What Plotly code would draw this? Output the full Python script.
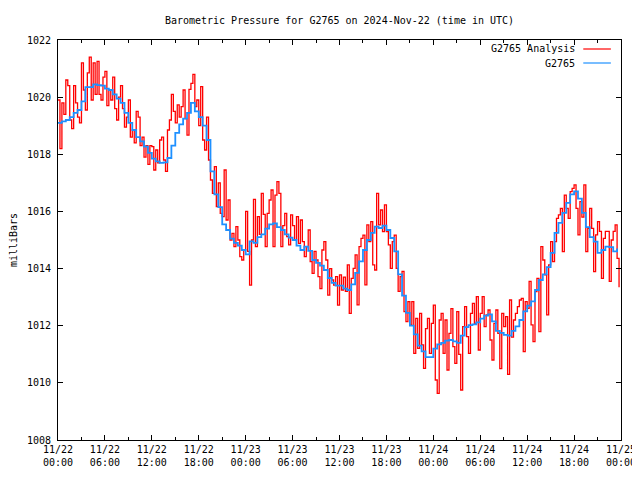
import pandas as pd
import plotly.graph_objects as go

title_text = "Barometric Pressure for G2765 on 2024-Nov-22 (time in UTC)"
start_time = "2024-11-22 00:00"
analysis_step = "15min"
obs_step = "30min"

# G2765 Analysis (red), 15-minute values
analysis_mb = [
    1019.9, 1018.2, 1019.8, 1019.4,
    1020.6, 1020.4, 1019.2, 1018.9,
    1020.4, 1019.8, 1019.3, 1019.1,
    1021.2, 1020.25, 1019.55, 1020.85,
    1021.4, 1019.9, 1021.2, 1020.1,
    1021.25, 1020.1, 1019.9, 1020.7,
    1020.9, 1019.7, 1020.25, 1019.9,
    1020.7, 1019.6, 1019.2, 1020.0,
    1020.4, 1019.6, 1018.95, 1019.3,
    1019.9, 1018.6, 1018.85, 1018.4,
    1019.5, 1019.3, 1018.3, 1018.6,
    1017.9, 1018.3, 1017.65, 1018.3,
    1018.27, 1017.45, 1018.15, 1017.7,
    1018.5, 1018.6, 1017.8, 1017.4,
    1018.85, 1019.2, 1020.1, 1019.5,
    1019.1, 1019.73, 1019.3, 1019.67,
    1020.25, 1019.25, 1018.67, 1020.27,
    1020.48, 1020.8, 1019.67, 1019.9,
    1019.0, 1020.37, 1018.5, 1018.15,
    1019.3, 1017.8, 1017.1, 1016.63,
    1017.57, 1016.17, 1017.0, 1015.93,
    1015.82, 1017.45, 1015.7, 1016.4,
    1015.0, 1015.23, 1014.77, 1015.47,
    1015.0, 1014.42, 1014.3, 1014.65,
    1016.0, 1014.6, 1013.42, 1015.0,
    1016.42, 1014.77, 1015.82, 1015.2,
    1016.63, 1015.9, 1014.77, 1015.93,
    1016.4, 1016.75, 1014.77, 1016.57,
    1017.04, 1016.63, 1014.77, 1015.5,
    1015.93, 1015.12, 1014.83, 1015.88,
    1015.5, 1015.0, 1015.82, 1014.88,
    1015.7, 1014.94, 1014.42, 1014.77,
    1015.35, 1014.24, 1013.83, 1014.6,
    1014.3, 1013.72, 1013.3, 1014.65,
    1014.94, 1014.3, 1013.07, 1014.0,
    1013.6, 1013.42, 1013.72, 1012.72,
    1013.78, 1013.25, 1013.7, 1013.2,
    1014.13, 1012.43, 1013.66, 1014.01,
    1014.48, 1012.73, 1014.77, 1015.06,
    1015.17, 1013.43, 1015.53, 1014.94,
    1015.64, 1014.13, 1013.95, 1016.63,
    1015.53, 1016.05, 1015.29, 1016.23,
    1015.29, 1014.83, 1014.01, 1014.94,
    1015.17, 1014.01, 1013.2, 1013.72,
    1013.9, 1012.49, 1012.14, 1012.84,
    1012.03, 1012.84, 1011.03, 1012.26,
    1011.21, 1012.43, 1011.33, 1010.51,
    1011.9, 1012.26, 1011.03, 1012.08,
    1012.72, 1010.1, 1009.63, 1012.2,
    1012.43, 1011.03, 1012.2, 1010.45,
    1011.73, 1012.6, 1011.27, 1010.68,
    1012.49, 1011.0, 1009.75, 1011.97,
    1012.67, 1011.62, 1011.03, 1012.43,
    1012.78, 1012.08, 1013.02, 1011.15,
    1012.43, 1013.02, 1011.97, 1012.38,
    1012.55, 1011.5, 1010.8, 1012.08,
    1012.55, 1011.73, 1010.5, 1012.43,
    1011.97, 1012.32, 1010.3, 1012.9,
    1011.6, 1012.2, 1012.43, 1012.67,
    1012.9, 1012.96, 1011.09, 1012.84,
    1012.61, 1013.55, 1012.03, 1011.44,
    1013.19, 1013.66, 1011.79, 1014.77,
    1014.3, 1013.78, 1012.38, 1014.13,
    1014.94, 1014.24, 1014.94, 1015.76,
    1015.88, 1016.11, 1014.59, 1016.57,
    1016.11, 1015.76, 1016.69, 1016.81,
    1016.93, 1016.11, 1015.18, 1016.34,
    1015.8, 1016.93, 1014.59, 1015.41,
    1016.11, 1015.41, 1013.89, 1015.18,
    1015.64, 1015.3, 1013.66, 1015.06,
    1015.3, 1015.3, 1013.55, 1015.0,
    1015.3, 1015.53, 1014.36, 1013.35,
]

# G2765 observations (blue), 30-minute values
obs_mb = [
    1019.10, 1019.15, 1019.20, 1019.30, 1019.45, 1019.55, 1019.85, 1020.35,
    1020.35, 1020.45, 1020.42, 1020.40, 1020.30, 1020.25, 1020.10, 1019.95,
    1019.80, 1019.45, 1019.10, 1018.85, 1018.60, 1018.45, 1018.27, 1018.05,
    1017.85, 1017.75, 1017.70, 1017.72, 1017.87, 1018.30, 1018.75, 1019.05,
    1019.25, 1019.45, 1019.80, 1019.50, 1019.30, 1019.00, 1018.50, 1017.40,
    1016.60, 1016.15, 1015.55, 1015.35, 1015.05, 1014.90, 1014.80, 1014.65,
    1014.50, 1014.95, 1014.90, 1015.10, 1015.20, 1015.40, 1015.55, 1015.58,
    1015.45, 1015.35, 1015.20, 1015.08, 1015.00, 1014.80, 1014.65, 1014.77,
    1014.62, 1014.30, 1014.20, 1014.10, 1013.95, 1013.67, 1013.50, 1013.40,
    1013.40, 1013.30, 1013.25, 1013.45, 1013.85, 1014.25, 1014.65, 1015.00,
    1015.25, 1015.47, 1015.42, 1015.50, 1015.35, 1015.07, 1014.60, 1013.80,
    1013.05, 1012.45, 1012.00, 1011.70, 1011.30, 1011.10, 1010.90, 1010.90,
    1011.20, 1011.35, 1011.40, 1011.48, 1011.50, 1011.45, 1011.40, 1011.65,
    1011.95, 1012.02, 1012.05, 1012.12, 1012.25, 1012.35, 1012.40, 1012.15,
    1011.82, 1011.75, 1011.68, 1011.65, 1011.82, 1011.98, 1012.20, 1012.50,
    1012.70, 1012.85, 1013.25, 1013.60, 1013.80, 1014.05, 1014.55, 1015.25,
    1015.60, 1015.95, 1016.30, 1016.60, 1016.70, 1016.45, 1015.95, 1015.45,
    1015.10, 1014.94, 1014.55, 1014.65, 1014.77, 1014.75, 1014.60, 1014.70,
]

x_tick_vals = ["2024-11-22 00:00", "2024-11-22 06:00", "2024-11-22 12:00", "2024-11-22 18:00",
               "2024-11-23 00:00", "2024-11-23 06:00", "2024-11-23 12:00", "2024-11-23 18:00",
               "2024-11-24 00:00", "2024-11-24 06:00", "2024-11-24 12:00", "2024-11-24 18:00",
               "2024-11-25 00:00"]
x_tick_text = ["11/22<br>00:00", "11/22<br>06:00", "11/22<br>12:00", "11/22<br>18:00",
               "11/23<br>00:00", "11/23<br>06:00", "11/23<br>12:00", "11/23<br>18:00",
               "11/24<br>00:00", "11/24<br>06:00", "11/24<br>12:00", "11/24<br>18:00",
               "11/25<br>00:00"]
y_ticks = [1008, 1010, 1012, 1014, 1016, 1018, 1020, 1022]

series_names = ["G2765 Analysis", "G2765"]
series_colors = ["#ff0000", "#1e90ff"]

t_analysis = pd.date_range(start_time, periods=len(analysis_mb), freq=analysis_step)
t_obs = pd.date_range(start_time, periods=len(obs_mb), freq=obs_step)

FONT = "DejaVu Sans Mono"

fig = go.Figure()
fig.add_trace(go.Scatter(x=t_analysis, y=analysis_mb, mode="lines", line_shape="hv",
                         line=dict(color=series_colors[0], width=1.3),
                         name=series_names[0], showlegend=False))
fig.add_trace(go.Scatter(x=t_obs, y=obs_mb, mode="lines", line_shape="hv",
                         line=dict(color=series_colors[1], width=1.8),
                         name=series_names[1], showlegend=False))

# gnuplot-style legend: text right-aligned, line sample to the right
legend_rows = [0.9775, 0.9425]
for name, color, yy in zip(series_names, series_colors, legend_rows):
    fig.add_annotation(xref="paper", yref="paper", x=0.921, y=yy, text=name,
                       showarrow=False, xanchor="right", yanchor="middle",
                       font=dict(family=FONT, size=10, color="black"))
    fig.add_shape(type="line", xref="paper", yref="paper", x0=0.933, x1=0.982,
                  y0=yy, y1=yy, line=dict(color=color, width=1.2))

# The page body has an 8px margin, so the figure is 8px smaller and offset.
fig.update_layout(
    width=632, height=472,
    margin=dict(l=50, r=19, t=32, b=40),
    paper_bgcolor="white", plot_bgcolor="white",
    font=dict(family=FONT, size=10, color="black"),
    title=dict(text=title_text, x=0.5, xref="paper", xanchor="center",
               y=1 - 12 / 472, yanchor="middle", yref="container",
               font=dict(family=FONT, size=10, color="black")),
)
fig.update_xaxes(
    type="date", range=["2024-11-22 00:00", "2024-11-25 00:00"],
    tickvals=x_tick_vals, ticktext=x_tick_text, tickangle=0, automargin=False,
    showgrid=False, zeroline=False,
    showline=True, linecolor="black", linewidth=1, mirror="ticks",
    ticks="inside", ticklen=5, tickcolor="black",
    minor=dict(ticks="inside", ticklen=3, dtick=3 * 3600 * 1000,
               tick0="2024-11-22 00:00", tickcolor="black", showgrid=False),
    tickfont=dict(family=FONT, size=10),
)
fig.update_yaxes(
    range=[1008, 1022], tickvals=y_ticks, ticktext=[str(v) for v in y_ticks],
    automargin=False,
    showgrid=False, zeroline=False,
    showline=True, linecolor="black", linewidth=1, mirror="ticks",
    ticks="inside", ticklen=5, tickcolor="black",
    tickfont=dict(family=FONT, size=10), ticklabelstandoff=4,
    title=dict(text="milliBars", font=dict(family=FONT, size=10), standoff=10),
)

fig.write_html("out.html")
